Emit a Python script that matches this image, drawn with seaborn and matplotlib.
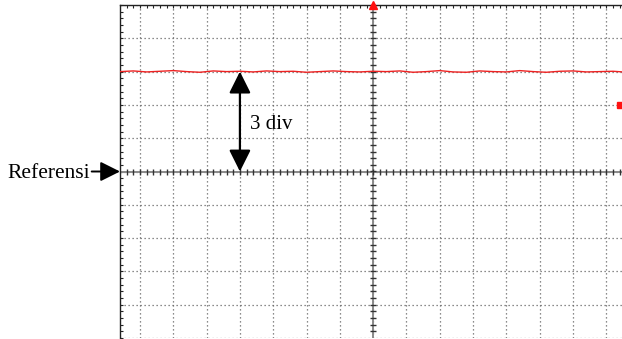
import numpy as np
import pandas as pd
import matplotlib
matplotlib.use("Agg")
import matplotlib.pyplot as plt
import seaborn as sns

# ---- data (in divisions) ----
trace_x = [-7.6, -7.2, -6.8, -6.4, -6.0, -5.6, -5.2, -4.8, -4.4, -4.0, -3.6, -3.2,
           -2.8, -2.4, -2.0, -1.6, -1.2, -0.8, -0.4, 0.0, 0.4, 0.8, 1.2, 1.6, 2.0,
           2.4, 2.8, 3.2, 3.6, 4.0, 4.4, 4.8, 5.2, 5.6, 6.0, 6.4, 6.8, 7.2, 7.5]
trace_y = [3.0, 3.02, 2.99, 3.01, 3.03, 3.0, 2.98, 3.02, 3.0, 3.01, 2.99, 3.02,
           3.0, 3.01, 2.98, 3.0, 3.02, 3.0, 2.99, 3.01, 3.0, 3.02, 2.98, 3.0, 3.03,
           2.99, 2.98, 3.02, 3.0, 2.99, 3.03, 3.0, 2.98, 3.01, 3.02, 2.99, 3.0, 3.01, 2.99]
reference_level = 0.0
signal_level = 3.0
arrow_x = -4.0
label_ref = "Referensi"
label_div = "3 div"

df = pd.DataFrame({"t": trace_x, "v": trace_y})

sns.set_theme(style="white")
plt.rcParams["font.family"] = ["Liberation Serif", "DejaVu Serif"]

W, H = 622, 339
fig = plt.figure(figsize=(W / 100, H / 100), dpi=100)
xmin, xmax = -7.6, 7.47
ymin, ymax = -5.0, 5.0
ax = fig.add_axes([120 / W, 1 / H, (622 - 120) / W, 333 / H])
ax.set_xlim(xmin, xmax)
ax.set_ylim(ymin, ymax)

# grid
ax.set_xticks(np.arange(-7, 8, 1))
ax.set_yticks(np.arange(-5, 6, 1))
ax.set_xticks(np.arange(-7.4, 7.5, 0.2), minor=True)
ax.set_yticks(np.arange(-4.8, 5.0, 0.2), minor=True)
ax.grid(True, which="major", linestyle=(0, (1, 2.2)), color="#666666", linewidth=0.9)
ax.xaxis.tick_top()
ax.tick_params(which="both", direction="in", length=2.5, width=0.8, color="#222222",
               labeltop=False, labelbottom=False, labelleft=False, top=True,
               bottom=False, left=True, right=False)
for s in ["right", "bottom"]:
    ax.spines[s].set_visible(False)
for s in ["left", "top"]:
    ax.spines[s].set_color("#222222")
    ax.spines[s].set_linewidth(1.0)

# center axes
ax.axhline(0, color="#8a8a8a", lw=1.4, zorder=2)
ax.axvline(0, color="#8a8a8a", lw=1.4, zorder=2)
mx = np.arange(-7.4, 7.5, 0.2)
my = np.arange(-4.8, 5.0, 0.2)
ax.plot(mx, np.zeros_like(mx), linestyle="none", marker="|", ms=4.5, mew=1.0,
        color="#333333", zorder=3)
ax.plot(np.zeros_like(my), my, linestyle="none", marker="_", ms=4.5, mew=1.0,
        color="#333333", zorder=3)

# trace
sns.lineplot(data=df, x="t", y="v", ax=ax, color="#ee2222", lw=1.0, zorder=4)
ax.set_xlabel("")
ax.set_ylabel("")

# markers
ax.plot([0], [ymax], marker="^", color="#ff1111", ms=6, clip_on=False, zorder=6)
ax.plot([7.42], [2.0], marker="s", color="#ff1111", ms=5, clip_on=False, zorder=6)

# double arrow
ax.annotate("", xy=(arrow_x, signal_level), xytext=(arrow_x, reference_level),
            arrowprops=dict(arrowstyle="<|-|>,head_length=1.1,head_width=0.55",
                            color="black", lw=1.6, shrinkA=0, shrinkB=0), zorder=7)
ax.text(arrow_x + 0.3, 1.4, label_div, fontsize=15, ha="left", va="center",
        color="black")

# reference arrow
ax.annotate("", xy=(xmin, reference_level), xytext=(-8.45, reference_level),
            arrowprops=dict(arrowstyle="-|>,head_length=1.0,head_width=0.5",
                            color="black", lw=1.4, shrinkA=0, shrinkB=0),
            annotation_clip=False)
ax.text(-8.5, -0.05, label_ref, fontsize=15.5, ha="right", va="center",
        color="black")

fig.savefig("out.png", dpi=100)
